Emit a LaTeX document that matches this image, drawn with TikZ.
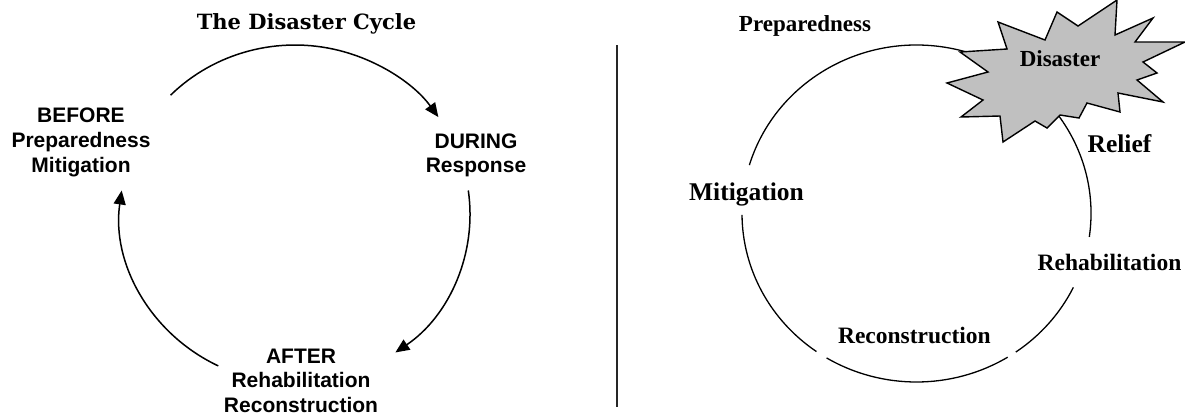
\documentclass[tikz,border=0pt]{standalone}
\usepackage{fontspec}
\usetikzlibrary{arrows.meta}
\newfontfamily\sansb{Liberation Sans}
\newfontfamily\serifb{Liberation Serif}
\newfontfamily\titlef{DejaVu Serif}
\definecolor{burstgray}{HTML}{C0C0C0}
\tikzset{
  lsans/.style={font=\sansb\bfseries\fontsize{21}{25}\selectfont, anchor=base, inner sep=0pt},
  rser/.style={font=\serifb\bfseries\fontsize{23.5}{26}\selectfont, anchor=base, inner sep=0pt},
  rbig/.style={font=\serifb\bfseries\fontsize{25.5}{28}\selectfont, anchor=base, inner sep=0pt},
  titlestyle/.style={font=\titlef\bfseries\fontsize{21}{24}\selectfont, anchor=base, inner sep=0pt},
  cyclearrow/.style={line width=1.5pt, -{Triangle[length=14pt,width=12pt]}},
  ringline/.style={line width=1.3pt},
  burst/.style={line width=1.4pt, fill=burstgray, draw=black, line join=miter},
  sepline/.style={line width=1.5pt, draw=black!85}
}
\begin{document}
\begin{tikzpicture}[x=1pt,y=-1pt]
\useasboundingbox (0,0) rectangle (1185,416);
% ---------- left diagram ----------
\node[titlestyle] (title) at (306.5,29.3) {The Disaster Cycle};
\node[lsans] (before) at (81,122.5) {BEFORE};
\node[lsans] (beforeA) at (81,147.5) {Preparedness};
\node[lsans] (beforeB) at (81,172.5) {Mitigation};
\node[lsans] (during) at (476,148) {DURING};
\node[lsans] (duringA) at (476,172) {Response};
\node[lsans] (after) at (301,363) {AFTER};
\node[lsans] (afterA) at (301,387.5) {Rehabilitation};
\node[lsans] (afterB) at (301,412) {Reconstruction};
\coordinate (L) at (295,214);
\draw[cyclearrow] (L) ++(-135.3:175 and 169) arc[start angle=-135.3, end angle=-35, x radius=175, y radius=169];
\draw[cyclearrow] (L) ++(-8:175 and 169) arc[start angle=-8, end angle=55, x radius=175, y radius=169];
\draw[cyclearrow] (L) ++(116:175 and 169) arc[start angle=116, end angle=188, x radius=175, y radius=169];
% ---------- separator ----------
\draw[sepline] (617,45) -- (617,407);
% ---------- right diagram ----------
\coordinate (R) at (916.5,213.5);
\draw[ringline] (R) ++(8:174.5 and 168.5) arc[start angle=8, end angle=-163.3, x radius=174.5, y radius=168.5];
\draw[ringline] (R) ++(-180.5:174.5 and 168.5) arc[start angle=-180.5, end angle=-235, x radius=174.5, y radius=168.5];
\draw[ringline] (R) ++(-239:174.5 and 168.5) arc[start angle=-239, end angle=-301.5, x radius=174.5, y radius=168.5];
\draw[ringline] (R) ++(-304.7:174.5 and 168.5) arc[start angle=-304.7, end angle=-334, x radius=174.5, y radius=168.5];
\draw[burst] (960,52) -- (1007,49) -- (998,22) -- (1045,40) -- (1057,12) -- (1078,26) -- (1117,0)
  -- (1115,35) -- (1153,18) -- (1135,42) -- (1185,42) -- (1143,62) -- (1157,73) -- (1137,80)
  -- (1163,102) -- (1118,93) -- (1120,112) -- (1087,103) -- (1079,118) -- (1060,115) -- (1047,128)
  -- (1035,121) -- (1003,142) -- (1000,116) -- (961,117) -- (983,100) -- (947,83) -- (988,72) -- cycle;
\node[rser, font=\serifb\bfseries\fontsize{23}{25}\selectfont] (disaster) at (1060,66.5) {Disaster};
\node[rser, font=\serifb\bfseries\fontsize{23}{26}\selectfont] (prep) at (805,31) {Preparedness};
\node[rbig] (relief) at (1119.5,152.7) {Relief};
\node[rbig] (mitig) at (746.5,200.7) {Mitigation};
\node[rser] (rehab) at (1109.5,270.7) {Rehabilitation};
\node[rser] (recon) at (914.4,343.3) {Reconstruction};
\end{tikzpicture}
\end{document}
